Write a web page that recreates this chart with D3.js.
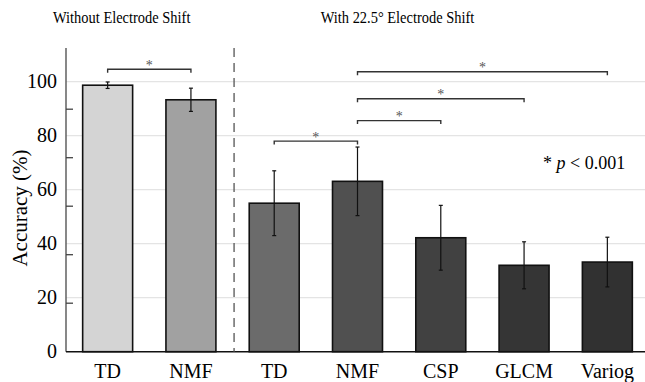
<!DOCTYPE html>
<html>
<head>
<meta charset="utf-8">
<script src="https://cdn.jsdelivr.net/npm/d3@7"></script>
</head>
<body style="margin:0">
<script>

	//Data
	var labels = ["TD", "NMF", "TD", "NMF", "CSP", "GLCM", "Variog"];
	var accuracy = [98.7, 93.3, 55.0, 63.1, 42.2, 32.0, 33.2];
	var errors = [1.2, 4.3, 12.0, 12.7, 12.0, 8.7, 9.2];
	var colors = ["#d4d4d4", "#a1a1a1", "#6b6b6b", "#505050", "#414141", "#353535", "#313131"];
	var yTicks = [0, 20, 40, 60, 80, 100];
	var groupTitles = ["Without Electrode Shift", "With 22.5\u00b0 Electrode Shift"];
	//significance brackets: [from bar, to bar, level in %]
	var brackets = [[0, 1, 104.6], [2, 3, 78.0], [3, 4, 85.6], [3, 5, 93.7], [3, 6, 103.7]];

	//Width and height
	var w = 645;
	var h = 382;

	var svg = d3.select("body")
				.append("svg")
				.attr("width", w)
				.attr("height", h);

	var x = d3.scaleBand()
			  .domain(d3.range(labels.length))
			  .range([66, 649])
			  .paddingInner(0.4)
			  .paddingOuter(0.2);

	var y = d3.scaleLinear()
			  .domain([0, 100])
			  .range([351.7, 81.7]);

	//the tick marks on the axis line do not sit on the gridlines in the original
	var tickY = d3.scaleLinear()
				  .domain([0, 100])
				  .range([351.7, 109.2]);

	var cx = function(i) { return x(i) + x.bandwidth() / 2; };

	var g = svg.append("g");

	var txt = function(size) {
		return g.append("text")
				.attr("font-family", "Times New Roman")
				.style("font-family", "'Times New Roman'")
				.style("font-size", size + "px");
	};

	//Gridlines
	svg.selectAll("line.grid")
	   .data(yTicks.slice(1))
	   .enter()
	   .append("line")
	   .attr("class", "grid")
	   .attr("x1", 66)
	   .attr("x2", w)
	   .attr("y1", function(d) { return y(d); })
	   .attr("y2", function(d) { return y(d); })
	   .attr("stroke", "#e4e4e4")
	   .attr("stroke-width", 1.2);

	//Y axis line with inward ticks
	svg.append("line")
	   .attr("x1", 66).attr("x2", 66)
	   .attr("y1", 48).attr("y2", y(0))
	   .attr("stroke", "#555")
	   .attr("stroke-width", 1.4);

	svg.selectAll("line.ytick")
	   .data(yTicks.slice(1))
	   .enter()
	   .append("line")
	   .attr("class", "ytick")
	   .attr("x1", 66).attr("x2", 73)
	   .attr("y1", function(d) { return tickY(d); })
	   .attr("y2", function(d) { return tickY(d); })
	   .attr("stroke", "#444")
	   .attr("stroke-width", 1.3);

	//Bars
	svg.selectAll("rect")
	   .data(accuracy)
	   .enter()
	   .append("rect")
	   .attr("x", function(d, i) { return x(i); })
	   .attr("y", function(d) { return y(d); })
	   .attr("width", x.bandwidth())
	   .attr("height", function(d) { return y(0) - y(d); })
	   .attr("fill", function(d, i) { return colors[i]; })
	   .attr("stroke", "#111")
	   .attr("stroke-width", 1.6);

	//Error bars
	var eb = svg.selectAll("g.err")
				.data(accuracy)
				.enter()
				.append("g")
				.attr("class", "err")
				.attr("stroke", "#111")
				.attr("stroke-width", 1.2);

	eb.append("line")
	  .attr("x1", function(d, i) { return cx(i); })
	  .attr("x2", function(d, i) { return cx(i); })
	  .attr("y1", function(d, i) { return y(d + errors[i]); })
	  .attr("y2", function(d, i) { return y(d - errors[i]); });

	eb.selectAll("line.cap")
	  .data(function(d, i) { return [[i, d + errors[i]], [i, d - errors[i]]]; })
	  .enter()
	  .append("line")
	  .attr("class", "cap")
	  .attr("x1", function(d) { return cx(d[0]) - 2; })
	  .attr("x2", function(d) { return cx(d[0]) + 2; })
	  .attr("y1", function(d) { return y(d[1]); })
	  .attr("y2", function(d) { return y(d[1]); });

	//X axis
	svg.append("line")
	   .attr("x1", 66).attr("x2", w)
	   .attr("y1", y(0)).attr("y2", y(0))
	   .attr("stroke", "#111")
	   .attr("stroke-width", 1.6);

	//Dashed separator between the two groups
	var sep = (cx(1) + cx(2)) / 2 + 1.5;
	svg.append("line")
	   .attr("x1", sep).attr("x2", sep)
	   .attr("y1", 48).attr("y2", y(0))
	   .attr("stroke", "#555")
	   .attr("stroke-width", 1.3)
	   .attr("stroke-dasharray", "9,6");

	//Significance brackets
	svg.selectAll("path.br")
	   .data(brackets)
	   .enter()
	   .append("path")
	   .attr("class", "br")
	   .attr("d", function(d) {
	   		var by = y(d[2]);
	   		return "M" + cx(d[0]) + "," + (by + 3.5) + "V" + by + "H" + cx(d[1]) + "V" + (by + 3.5);
	   })
	   .attr("fill", "none")
	   .attr("stroke", "#333")
	   .attr("stroke-width", 1.4);

	//all text is drawn last, in one group
	g.raise();

	yTicks.forEach(function(d) {
		txt(20)
		   .attr("x", 57)
		   .attr("y", y(d) + 6.5)
		   .attr("text-anchor", "end")
		   .text(d);
	});

	txt(21)
	   .attr("transform", "translate(27,208) rotate(-90)")
	   .attr("text-anchor", "middle")
	   .text("Accuracy (%)");

	labels.forEach(function(d, i) {
		txt(20)
		   .attr("x", cx(i))
		   .attr("y", 377.5)
		   .attr("text-anchor", "middle")
		   .text(d);
	});

	groupTitles.forEach(function(d, i) {
		var tx = i == 0 ? 121.7 : 397.5;
		txt(17)
		   .attr("transform", "translate(" + tx + ",23) scale(0.85,1)")
		   .attr("text-anchor", "middle")
		   .text(d);
	});

	brackets.forEach(function(d) {
		txt(14)
		   .attr("x", (cx(d[0]) + cx(d[1])) / 2)
		   .attr("y", y(d[2]) + 0.5)
		   .attr("text-anchor", "middle")
		   .attr("fill", "#555")
		   .text("*");
	});

	var note = txt(18)
				  .attr("x", 543)
				  .attr("y", 168.5);
	note.append("tspan").text("* ");
	note.append("tspan").style("font-style", "italic").text("p");
	note.append("tspan").text(" < 0.001");

</script>
</body>
</html>
